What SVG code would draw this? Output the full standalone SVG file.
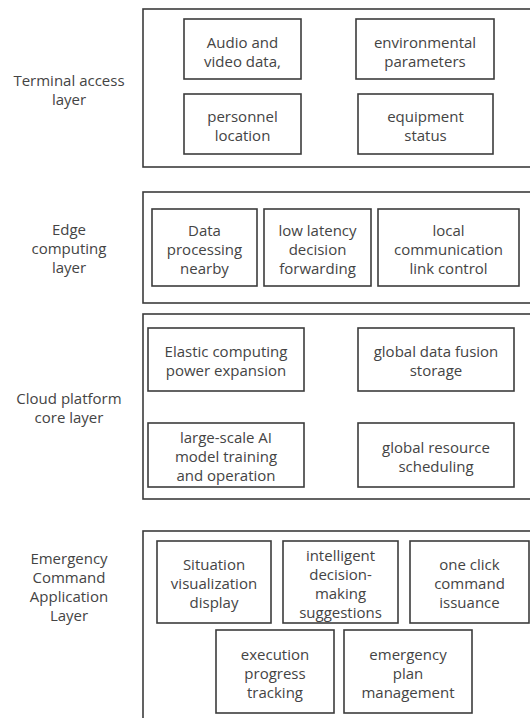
<svg xmlns="http://www.w3.org/2000/svg" width="530" height="718" viewBox="0 0 530 718">
<style>
.layer{fill:none;stroke:#3c3c3c;stroke-width:1.6}
.box{fill:#fff;stroke:#3c3c3c;stroke-width:1.6}
text{font-family:"Open Sans","Noto Sans","Liberation Sans",sans-serif;font-size:15px;fill:#444;text-anchor:middle}
</style>
<rect width="530" height="718" fill="#fff"/>
<g id="layer-terminal">
<rect class="layer" x="143" y="9" width="400" height="158"/>
<text x="69" y="86">Terminal access</text><text x="69" y="105">layer</text>
</g>
<g id="n-audio"><rect class="box" x="184" y="19" width="117" height="60"/><text x="242.5" y="47.5">Audio and</text><text x="242.5" y="66.5">video data,</text></g>
<g id="n-env"><rect class="box" x="356" y="19" width="138" height="60"/><text x="425" y="47.5">environmental</text><text x="425" y="66.5">parameters</text></g>
<g id="n-personnel"><rect class="box" x="184" y="94" width="117" height="60"/><text x="242.5" y="121.5">personnel</text><text x="242.5" y="140.5">location</text></g>
<g id="n-equip"><rect class="box" x="358" y="94" width="135" height="60"/><text x="425.5" y="121.5">equipment</text><text x="425.5" y="140.5">status</text></g>

<g id="layer-edge">
<rect class="layer" x="143" y="192" width="400" height="111"/>
<text x="69" y="235">Edge</text><text x="69" y="254">computing</text><text x="69" y="273">layer</text>
</g>
<g id="n-dataproc"><rect class="box" x="152" y="209" width="105" height="77"/><text x="204.5" y="235.5">Data</text><text x="204.5" y="254.5">processing</text><text x="204.5" y="273.5">nearby</text></g>
<g id="n-lowlat"><rect class="box" x="264" y="209" width="107" height="77"/><text x="317.5" y="235.5">low latency</text><text x="317.5" y="254.5">decision</text><text x="317.5" y="273.5">forwarding</text></g>
<g id="n-localcomm"><rect class="box" x="378" y="209" width="141" height="77"/><text x="448.5" y="235.5">local</text><text x="448.5" y="254.5">communication</text><text x="448.5" y="273.5">link control</text></g>

<g id="layer-cloud">
<rect class="layer" x="143" y="314" width="400" height="185"/>
<text x="69" y="404">Cloud platform</text><text x="69" y="423">core layer</text>
</g>
<g id="n-elastic"><rect class="box" x="148" y="328" width="156" height="63"/><text x="226" y="357">Elastic computing</text><text x="226" y="376">power expansion</text></g>
<g id="n-fusion"><rect class="box" x="358" y="328" width="156" height="63"/><text x="436" y="357">global data fusion</text><text x="436" y="376">storage</text></g>
<g id="n-ai"><rect class="box" x="148" y="423" width="156" height="64"/><text x="226" y="443">large-scale AI</text><text x="226" y="462">model training</text><text x="226" y="481">and operation</text></g>
<g id="n-sched"><rect class="box" x="358" y="423" width="156" height="64"/><text x="436" y="452.5">global resource</text><text x="436" y="471.5">scheduling</text></g>

<g id="layer-app">
<rect class="layer" x="143" y="531" width="400" height="200"/>
<text x="69" y="564">Emergency</text><text x="69" y="583">Command</text><text x="69" y="602">Application</text><text x="69" y="621">Layer</text>
</g>
<g id="n-situation"><rect class="box" x="157" y="541" width="114" height="82"/><text x="214" y="570">Situation</text><text x="214" y="589">visualization</text><text x="214" y="608">display</text></g>
<g id="n-intel"><rect class="box" x="283" y="541" width="115" height="82"/><text x="340.5" y="560.5">intelligent</text><text x="340.5" y="579.5">decision-</text><text x="340.5" y="598.5">making</text><text x="340.5" y="617.5">suggestions</text></g>
<g id="n-oneclick"><rect class="box" x="410" y="541" width="119" height="82"/><text x="469.5" y="570">one click</text><text x="469.5" y="589">command</text><text x="469.5" y="608">issuance</text></g>
<g id="n-exec"><rect class="box" x="216" y="630" width="118" height="83"/><text x="275" y="659.5">execution</text><text x="275" y="678.5">progress</text><text x="275" y="697.5">tracking</text></g>
<g id="n-plan"><rect class="box" x="344" y="630" width="128" height="83"/><text x="408" y="659.5">emergency</text><text x="408" y="678.5">plan</text><text x="408" y="697.5">management</text></g>

<g id="connectors"></g>
</svg>
